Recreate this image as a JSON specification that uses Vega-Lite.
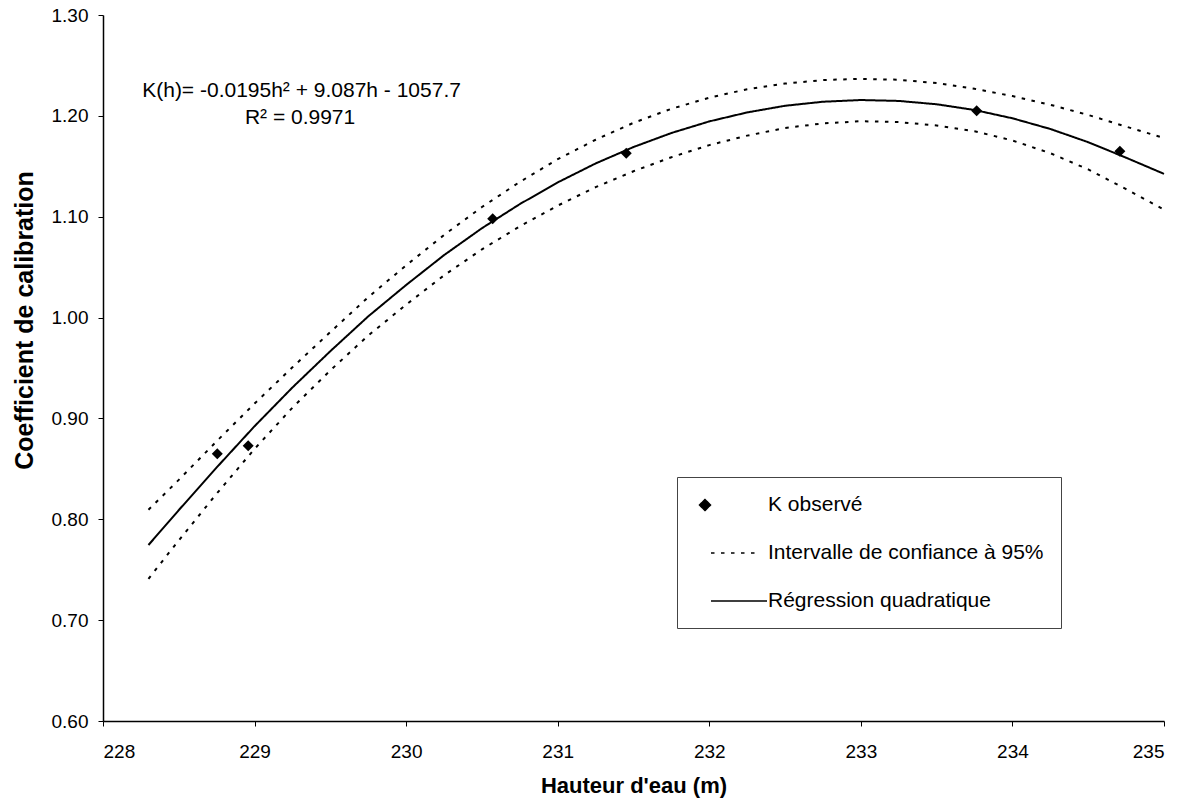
{
  "$schema": "https://vega.github.io/schema/vega-lite/v6.json",
  "width": 1061,
  "height": 706,
  "autosize": {"type": "none"},
  "padding": {"left": 103, "top": 15, "right": 21, "bottom": 82},
  "background": "white",
  "config": {
    "view": {"stroke": null},
    "font": "Liberation Sans",
    "axis": {
      "grid": false,
      "domainColor": "black",
      "domainWidth": 1.5,
      "tickColor": "black",
      "tickWidth": 1,
      "tickSize": 5,
      "labelColor": "black",
      "labelFont": "Liberation Sans",
      "labelFontSize": 19,
      "titleColor": "black",
      "titleFont": "Liberation Sans",
      "titleFontWeight": "bold"
    },
    "legend": {
      "title": null,
      "orient": "none",
      "legendX": 574,
      "legendY": 462,
      "padding": 17,
      "strokeColor": "#444",
      "fillColor": "white",
      "symbolSize": 400,
      "rowPadding": 27,
      "labelOffset": 52,
      "labelFont": "Liberation Sans",
      "labelFontSize": 21,
      "labelColor": "black",
      "labelLimit": 0,
      "symbolFillColor": "black",
      "symbolStrokeColor": "black"
    }
  },
  "datasets": {
    "courbes": [
      {"h": 228.3, "k": 0.7745, "serie": "Régression quadratique", "trace": "ajustement"},
      {"h": 228.5, "k": 0.8091, "serie": "Régression quadratique", "trace": "ajustement"},
      {"h": 228.75, "k": 0.8514, "serie": "Régression quadratique", "trace": "ajustement"},
      {"h": 229.0, "k": 0.8923, "serie": "Régression quadratique", "trace": "ajustement"},
      {"h": 229.25, "k": 0.9307, "serie": "Régression quadratique", "trace": "ajustement"},
      {"h": 229.5, "k": 0.9667, "serie": "Régression quadratique", "trace": "ajustement"},
      {"h": 229.75, "k": 1.0012, "serie": "Régression quadratique", "trace": "ajustement"},
      {"h": 230.0, "k": 1.0323, "serie": "Régression quadratique", "trace": "ajustement"},
      {"h": 230.25, "k": 1.0619, "serie": "Régression quadratique", "trace": "ajustement"},
      {"h": 230.5, "k": 1.0886, "serie": "Régression quadratique", "trace": "ajustement"},
      {"h": 230.75, "k": 1.1125, "serie": "Régression quadratique", "trace": "ajustement"},
      {"h": 231.0, "k": 1.1340, "serie": "Régression quadratique", "trace": "ajustement"},
      {"h": 231.25, "k": 1.1528, "serie": "Régression quadratique", "trace": "ajustement"},
      {"h": 231.5, "k": 1.1691, "serie": "Régression quadratique", "trace": "ajustement"},
      {"h": 231.75, "k": 1.1830, "serie": "Régression quadratique", "trace": "ajustement"},
      {"h": 232.0, "k": 1.1945, "serie": "Régression quadratique", "trace": "ajustement"},
      {"h": 232.25, "k": 1.2034, "serie": "Régression quadratique", "trace": "ajustement"},
      {"h": 232.5, "k": 1.2100, "serie": "Régression quadratique", "trace": "ajustement"},
      {"h": 232.75, "k": 1.2140, "serie": "Régression quadratique", "trace": "ajustement"},
      {"h": 233.0, "k": 1.2157, "serie": "Régression quadratique", "trace": "ajustement"},
      {"h": 233.25, "k": 1.2148, "serie": "Régression quadratique", "trace": "ajustement"},
      {"h": 233.5, "k": 1.2115, "serie": "Régression quadratique", "trace": "ajustement"},
      {"h": 233.75, "k": 1.2058, "serie": "Régression quadratique", "trace": "ajustement"},
      {"h": 234.0, "k": 1.1976, "serie": "Régression quadratique", "trace": "ajustement"},
      {"h": 234.25, "k": 1.1870, "serie": "Régression quadratique", "trace": "ajustement"},
      {"h": 234.5, "k": 1.1739, "serie": "Régression quadratique", "trace": "ajustement"},
      {"h": 234.75, "k": 1.1585, "serie": "Régression quadratique", "trace": "ajustement"},
      {"h": 235.0, "k": 1.1425, "serie": "Régression quadratique", "trace": "ajustement"},

      {"h": 228.3, "k": 0.8095, "serie": "Intervalle de confiance à 95%", "trace": "haut"},
      {"h": 228.5, "k": 0.8391, "serie": "Intervalle de confiance à 95%", "trace": "haut"},
      {"h": 228.75, "k": 0.8774, "serie": "Intervalle de confiance à 95%", "trace": "haut"},
      {"h": 229.0, "k": 0.9148, "serie": "Intervalle de confiance à 95%", "trace": "haut"},
      {"h": 229.25, "k": 0.9507, "serie": "Intervalle de confiance à 95%", "trace": "haut"},
      {"h": 229.5, "k": 0.9857, "serie": "Intervalle de confiance à 95%", "trace": "haut"},
      {"h": 229.75, "k": 1.0202, "serie": "Intervalle de confiance à 95%", "trace": "haut"},
      {"h": 230.0, "k": 1.0518, "serie": "Intervalle de confiance à 95%", "trace": "haut"},
      {"h": 230.25, "k": 1.0819, "serie": "Intervalle de confiance à 95%", "trace": "haut"},
      {"h": 230.5, "k": 1.1096, "serie": "Intervalle de confiance à 95%", "trace": "haut"},
      {"h": 230.75, "k": 1.1345, "serie": "Intervalle de confiance à 95%", "trace": "haut"},
      {"h": 231.0, "k": 1.1570, "serie": "Intervalle de confiance à 95%", "trace": "haut"},
      {"h": 231.25, "k": 1.1763, "serie": "Intervalle de confiance à 95%", "trace": "haut"},
      {"h": 231.5, "k": 1.1931, "serie": "Intervalle de confiance à 95%", "trace": "haut"},
      {"h": 231.75, "k": 1.2070, "serie": "Intervalle de confiance à 95%", "trace": "haut"},
      {"h": 232.0, "k": 1.2180, "serie": "Intervalle de confiance à 95%", "trace": "haut"},
      {"h": 232.25, "k": 1.2264, "serie": "Intervalle de confiance à 95%", "trace": "haut"},
      {"h": 232.5, "k": 1.2320, "serie": "Intervalle de confiance à 95%", "trace": "haut"},
      {"h": 232.75, "k": 1.2355, "serie": "Intervalle de confiance à 95%", "trace": "haut"},
      {"h": 233.0, "k": 1.2367, "serie": "Intervalle de confiance à 95%", "trace": "haut"},
      {"h": 233.25, "k": 1.2358, "serie": "Intervalle de confiance à 95%", "trace": "haut"},
      {"h": 233.5, "k": 1.2325, "serie": "Intervalle de confiance à 95%", "trace": "haut"},
      {"h": 233.75, "k": 1.2268, "serie": "Intervalle de confiance à 95%", "trace": "haut"},
      {"h": 234.0, "k": 1.2196, "serie": "Intervalle de confiance à 95%", "trace": "haut"},
      {"h": 234.25, "k": 1.2110, "serie": "Intervalle de confiance à 95%", "trace": "haut"},
      {"h": 234.5, "k": 1.2009, "serie": "Intervalle de confiance à 95%", "trace": "haut"},
      {"h": 234.75, "k": 1.1893, "serie": "Intervalle de confiance à 95%", "trace": "haut"},
      {"h": 235.0, "k": 1.1780, "serie": "Intervalle de confiance à 95%", "trace": "haut"},

      {"h": 228.3, "k": 0.7410, "serie": "Intervalle de confiance à 95%", "trace": "bas"},
      {"h": 228.5, "k": 0.7791, "serie": "Intervalle de confiance à 95%", "trace": "bas"},
      {"h": 228.75, "k": 0.8254, "serie": "Intervalle de confiance à 95%", "trace": "bas"},
      {"h": 229.0, "k": 0.8698, "serie": "Intervalle de confiance à 95%", "trace": "bas"},
      {"h": 229.25, "k": 0.9107, "serie": "Intervalle de confiance à 95%", "trace": "bas"},
      {"h": 229.5, "k": 0.9477, "serie": "Intervalle de confiance à 95%", "trace": "bas"},
      {"h": 229.75, "k": 0.9822, "serie": "Intervalle de confiance à 95%", "trace": "bas"},
      {"h": 230.0, "k": 1.0128, "serie": "Intervalle de confiance à 95%", "trace": "bas"},
      {"h": 230.25, "k": 1.0419, "serie": "Intervalle de confiance à 95%", "trace": "bas"},
      {"h": 230.5, "k": 1.0676, "serie": "Intervalle de confiance à 95%", "trace": "bas"},
      {"h": 230.75, "k": 1.0905, "serie": "Intervalle de confiance à 95%", "trace": "bas"},
      {"h": 231.0, "k": 1.1110, "serie": "Intervalle de confiance à 95%", "trace": "bas"},
      {"h": 231.25, "k": 1.1293, "serie": "Intervalle de confiance à 95%", "trace": "bas"},
      {"h": 231.5, "k": 1.1451, "serie": "Intervalle de confiance à 95%", "trace": "bas"},
      {"h": 231.75, "k": 1.1590, "serie": "Intervalle de confiance à 95%", "trace": "bas"},
      {"h": 232.0, "k": 1.1710, "serie": "Intervalle de confiance à 95%", "trace": "bas"},
      {"h": 232.25, "k": 1.1804, "serie": "Intervalle de confiance à 95%", "trace": "bas"},
      {"h": 232.5, "k": 1.1880, "serie": "Intervalle de confiance à 95%", "trace": "bas"},
      {"h": 232.75, "k": 1.1925, "serie": "Intervalle de confiance à 95%", "trace": "bas"},
      {"h": 233.0, "k": 1.1947, "serie": "Intervalle de confiance à 95%", "trace": "bas"},
      {"h": 233.25, "k": 1.1938, "serie": "Intervalle de confiance à 95%", "trace": "bas"},
      {"h": 233.5, "k": 1.1905, "serie": "Intervalle de confiance à 95%", "trace": "bas"},
      {"h": 233.75, "k": 1.1848, "serie": "Intervalle de confiance à 95%", "trace": "bas"},
      {"h": 234.0, "k": 1.1756, "serie": "Intervalle de confiance à 95%", "trace": "bas"},
      {"h": 234.25, "k": 1.1630, "serie": "Intervalle de confiance à 95%", "trace": "bas"},
      {"h": 234.5, "k": 1.1469, "serie": "Intervalle de confiance à 95%", "trace": "bas"},
      {"h": 234.75, "k": 1.1273, "serie": "Intervalle de confiance à 95%", "trace": "bas"},
      {"h": 235.0, "k": 1.1070, "serie": "Intervalle de confiance à 95%", "trace": "bas"}
    ],
    "mesures": [
      {"h": 228.754, "k": 0.865, "serie": "K observé"},
      {"h": 228.958, "k": 0.873, "serie": "K observé"},
      {"h": 230.571, "k": 1.098, "serie": "K observé"},
      {"h": 231.452, "k": 1.163, "serie": "K observé"},
      {"h": 233.764, "k": 1.205, "serie": "K observé"},
      {"h": 234.709, "k": 1.165, "serie": "K observé"}
    ],
    "equation": [
      {"h": 229.31, "k": 1.219, "texte": "K(h)= -0.0195h² + 9.087h - 1057.7"},
      {"h": 229.30, "k": 1.1919, "texte": "R² = 0.9971"}
    ]
  },
  "layer": [
    {
      "data": {"name": "courbes"},
      "mark": {"type": "line", "color": "black", "strokeWidth": 2},
      "encoding": {
        "x": {
          "field": "h", "type": "quantitative",
          "scale": {"domain": [228, 235]},
          "axis": {
            "title": "Hauteur d'eau (m)",
            "values": [228, 229, 230, 231, 232, 233, 234, 235],
            "format": "d",
            "labelPadding": 16,
            "titleFontSize": 22,
            "titlePadding": 14
          }
        },
        "y": {
          "field": "k", "type": "quantitative",
          "scale": {"domain": [0.6, 1.3]},
          "axis": {
            "title": "Coefficient de calibration",
            "values": [0.6, 0.7, 0.8, 0.9, 1.0, 1.1, 1.2, 1.3],
            "format": ".2f",
            "labelPadding": 10,
            "titleFontSize": 25,
            "titlePadding": 14,
            "titleY": 305
          }
        },
        "detail": {"field": "trace", "type": "nominal"},
        "strokeDash": {
          "field": "serie", "type": "nominal",
          "scale": {
            "domain": ["K observé", "Intervalle de confiance à 95%", "Régression quadratique"],
            "range": [[1, 0], [3.5, 6.5], [1, 0]]
          },
          "legend": {
            "encode": {
              "symbols": {
                "update": {
                  "stroke": {"value": "black"},
                  "strokeWidth": {"value": 1.5},
                  "fill": {"value": "black"},
                  "fillOpacity": {"value": 1},
                  "strokeOpacity": {"value": 1},
                  "opacity": {"value": 1}
                }
              }
            }
          }
        }
      }
    },
    {
      "data": {"name": "mesures"},
      "mark": {"type": "point", "filled": true, "color": "black", "size": 400, "opacity": 1},
      "encoding": {
        "x": {"field": "h", "type": "quantitative"},
        "y": {"field": "k", "type": "quantitative"},
        "shape": {
          "field": "serie", "type": "nominal",
          "scale": {
            "domain": ["K observé", "Intervalle de confiance à 95%", "Régression quadratique"],
            "range": ["M0,-0.55L0.55,0L0,0.55L-0.55,0Z", "M0.6,0L5.1,0", "M0.6,0L6.2,0"]
          },
          "legend": {
            "encode": {
              "symbols": {
                "update": {
                  "stroke": {"value": "black"},
                  "strokeWidth": {"value": 1.5},
                  "fill": {"value": "black"},
                  "fillOpacity": {"value": 1},
                  "strokeOpacity": {"value": 1},
                  "opacity": {"value": 1}
                }
              }
            }
          }
        }
      }
    },
    {
      "data": {"name": "equation"},
      "mark": {"type": "text", "font": "Liberation Sans", "fontSize": 21, "align": "center", "baseline": "alphabetic", "color": "black"},
      "encoding": {
        "x": {"field": "h", "type": "quantitative"},
        "y": {"field": "k", "type": "quantitative"},
        "text": {"field": "texte", "type": "nominal"}
      }
    }
  ]
}
